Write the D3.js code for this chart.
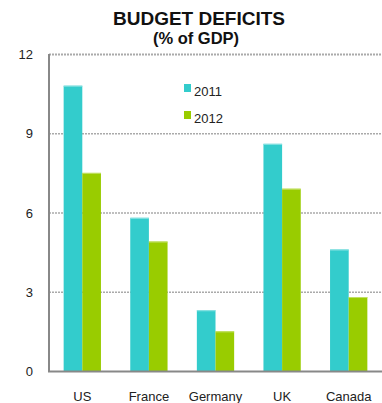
<!DOCTYPE html>
<html><head><meta charset="utf-8">
<script src="https://cdn.jsdelivr.net/npm/d3@7"></script>
<style>body{margin:0;background:#fff;} svg{display:block;font-family:"Liberation Sans",Arial,sans-serif;}</style>
</head><body>
<svg id="c" width="382" height="403"></svg>
<script>
const categories = ["US","France","Germany","UK","Canada"];
const seriesNames = ["2011","2012"];
const values2011 = [10.8,5.8,2.3,8.6,4.6];
const values2012 = [7.5,4.9,1.5,6.9,2.8];
const yTicks = [0,3,6,9,12];
const colors = ["#33CCCC","#99CC00"];
const edgeColors = ["#8fe3e3","#c2e066"];

const svg = d3.select("#c");
const L = 49, R = 382, T = 54, B = 371;
const x0 = d3.scaleBand().domain(categories).range([L,R]).paddingInner(0.44).paddingOuter(0.22);
const x1 = d3.scaleBand().domain(seriesNames).range([0,x0.bandwidth()]);
const y = d3.scaleLinear().domain([0,12]).range([B,T]);

// gridlines
svg.append("g").selectAll("line").data(yTicks.filter(d=>d>0)).join("line")
  .attr("x1",L).attr("x2",R).attr("y1",d=>y(d)+0.5).attr("y2",d=>y(d)+0.5)
  .attr("stroke","#aaaaaa").attr("stroke-width",d=>d===12?2:1.5).attr("stroke-dasharray","2,1");

// bars
const data = categories.map((c,i)=>({c, vals:[values2011[i],values2012[i]]}));
const g = svg.append("g").selectAll("g").data(data).join("g")
  .attr("transform",d=>`translate(${x0(d.c)},0)`);
g.selectAll("rect").data(d=>d.vals.map((v,j)=>({v,j}))).join("rect")
  .attr("x",d=>x1(seriesNames[d.j])).attr("width",x1.bandwidth())
  .attr("y",d=>y(d.v)).attr("height",d=>B-y(d.v))
  .attr("fill",d=>colors[d.j]);
g.selectAll("line.edge").data(d=>d.vals.map((v,j)=>({v,j}))).join("line").attr("class","edge")
  .attr("x1",d=>x1(seriesNames[d.j])).attr("x2",d=>x1(seriesNames[d.j])+x1.bandwidth())
  .attr("y1",d=>y(d.v)+0.5).attr("y2",d=>y(d.v)+0.5)
  .attr("stroke",d=>edgeColors[d.j]).attr("stroke-width",1);

// axes lines
svg.append("line").attr("x1",L).attr("x2",L).attr("y1",T).attr("y2",B+1)
  .attr("stroke","#888").attr("stroke-width",2);
svg.append("line").attr("x1",L-1).attr("x2",R).attr("y1",B+0.5).attr("y2",B+0.5)
  .attr("stroke","#888").attr("stroke-width",2);

// y tick labels
svg.append("g").selectAll("text").data(yTicks).join("text")
  .attr("x",33).attr("y",d=>y(d)+5).attr("text-anchor","end")
  .attr("font-size",13).attr("fill","#222").text(d=>d);

// x labels
svg.append("g").selectAll("text").data(categories).join("text")
  .attr("x",d=>x0(d)+x0.bandwidth()/2).attr("y",401).attr("text-anchor","middle")
  .attr("font-size",13).attr("fill","#222").text(d=>d);

// legend
const leg = svg.append("g").selectAll("g").data(seriesNames).join("g")
  .attr("transform",(d,i)=>`translate(184,${84+i*27})`);
leg.append("rect").attr("width",7).attr("height",8).attr("fill",(d,i)=>colors[i]);
leg.append("text").attr("x",10).attr("y",12).attr("font-size",13).attr("fill","#222").text(d=>d);

// title
svg.append("text").attr("x",199).attr("y",25).attr("text-anchor","middle")
  .attr("font-size",19).attr("font-weight","bold").attr("fill","#111").text("BUDGET DEFICITS");
svg.append("text").attr("x",196).attr("y",44).attr("text-anchor","middle")
  .attr("font-size",16.5).attr("font-weight","bold").attr("fill","#111").text("(% of GDP)");
</script>
</body></html>
